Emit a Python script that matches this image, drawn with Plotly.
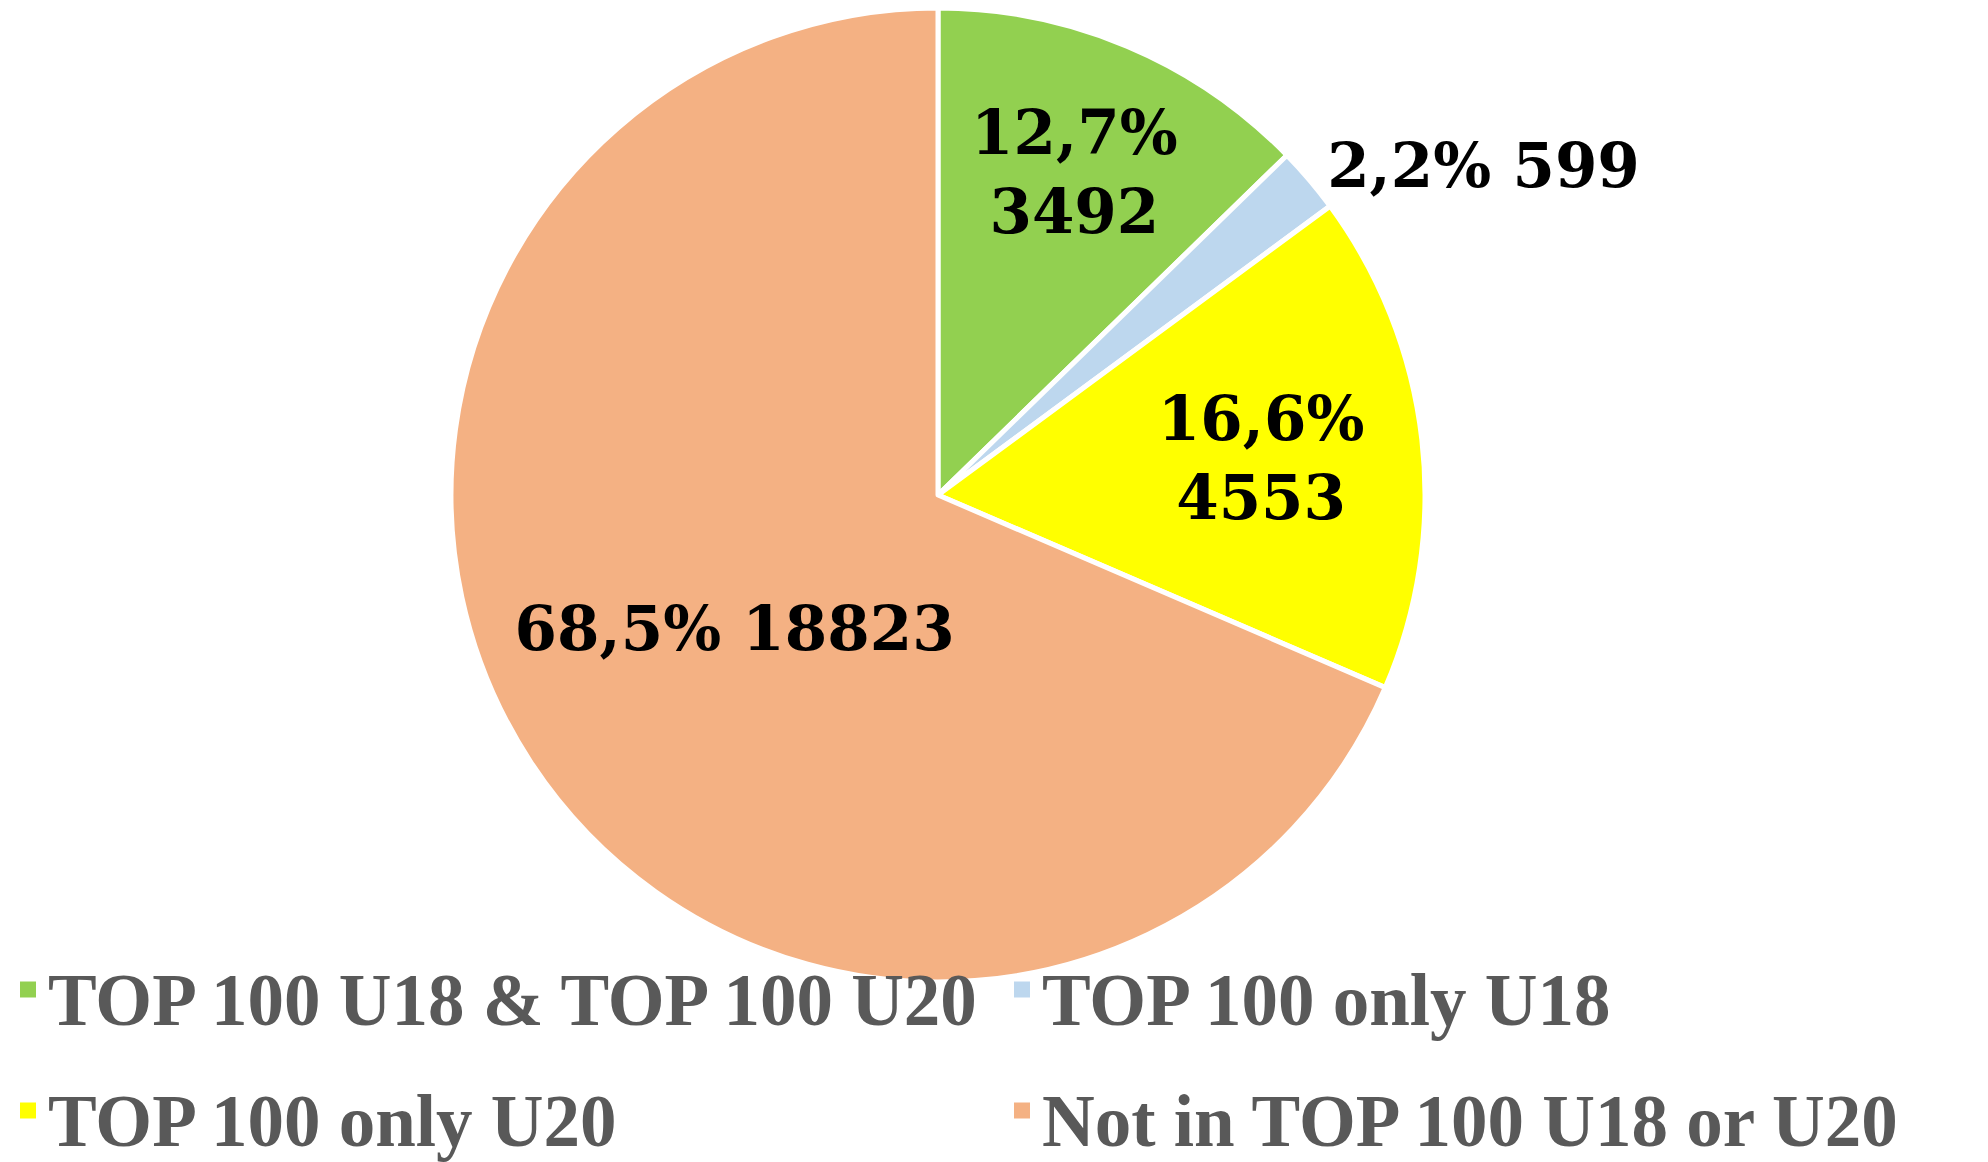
import plotly.graph_objects as go

categories = ["TOP 100 U18 & TOP 100 U20", "TOP 100 only U18", "TOP 100 only U20", "Not in TOP 100 U18 or U20"]
values = [3492, 599, 4553, 18823]
colors = ["#92D050", "#BDD7EE", "#FFFF00", "#F4B183"]
templates = ["%{percent:.1%}<br>%{value:d}", "%{percent:.1%} %{value:d}",
             "%{percent:.1%}<br>%{value:d}", "%{percent:.1%} %{value:d}"]
positions = ["inside", "outside", "inside", "inside"]

W, H = 1988, 1162
cx, cy, r = 930, 487, 487

LEG_TXT = 73        # visible legend text size
ROW_H = 118         # legend row pitch

fig = go.Figure()
fig.add_trace(go.Pie(
    labels=categories,
    values=values,
    sort=False,
    direction="clockwise",
    rotation=0,
    marker=dict(colors=colors, line=dict(color="white", width=5)),
    texttemplate=templates,
    textposition=positions,
    insidetextorientation="horizontal",
    textfont=dict(family="DejaVu Serif", size=61, color="black", weight="bold"),
    domain=dict(x=[(cx - r) / W, (cx + r) / W], y=[(H - cy - r) / H, (H - cy + r) / H]),
    hoverinfo="label+value+percent",
    showlegend=False,
))

# legend entries (square keys like the reference)
for name, col in zip(categories, colors):
    fig.add_trace(go.Scatter(
        x=[None], y=[None], mode="markers",
        name=f'<span style="font-size:{LEG_TXT}px">{name}</span>',
        marker=dict(symbol="square", size=20, color=col),
        hoverinfo="skip",
    ))

legend_top = 980 - ROW_H / 2 - 5
fig.update_layout(
    width=W, height=H,
    margin=dict(l=0, r=0, t=0, b=0, autoexpand=False),
    paper_bgcolor="white",
    plot_bgcolor="white",
    xaxis=dict(visible=False),
    yaxis=dict(visible=False),
    separators=", ",
    showlegend=True,
    legend=dict(
        orientation="h",
        x=0.0, xanchor="left",
        y=(H - legend_top) / H, yanchor="top",
        entrywidth=0.5, entrywidthmode="fraction",
        bgcolor="rgba(0,0,0,0)",
        font=dict(family="Liberation Serif", size=ROW_H / 1.3, color="#595959", weight="bold"),
        traceorder="normal",
    ),
)

fig.write_html("out.html")
